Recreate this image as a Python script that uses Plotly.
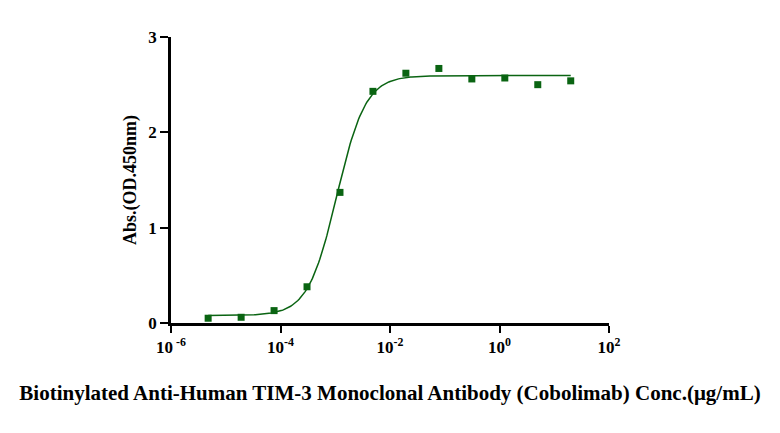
import numpy as np
import plotly.graph_objects as go

# concentrations (ug/mL), 4-fold dilutions from 20
conc = [4.77e-6, 1.91e-5, 7.63e-5, 3.05e-4, 1.22e-3, 4.88e-3,
        0.0195, 0.0781, 0.3125, 1.25, 5.0, 20.0]
od450 = [0.05, 0.06, 0.13, 0.38, 1.37, 2.43,
         2.62, 2.67, 2.56, 2.57, 2.50, 2.54]

# 4PL fit parameters
bottom, top, ec50, hill = 0.078, 2.595, 1.07e-3, 1.65

xtick_vals = [1e-6, 1e-4, 1e-2, 1e0, 1e2]
xtick_text = ["10<sup> -6</sup>", "10<sup>-4</sup>", "10<sup>-2</sup>",
              "10<sup>0</sup>", "10<sup>2</sup>"]

green = "#0a6412"
serif = "Liberation Serif"

xfit = np.logspace(np.log10(conc[0]), np.log10(conc[-1]), 300)
yfit = bottom + (top - bottom) / (1 + (ec50 / xfit) ** hill)

fig = go.Figure()
fig.add_trace(go.Scatter(x=xfit, y=yfit, mode="lines",
                         line=dict(color=green, width=1.5), hoverinfo="skip"))
fig.add_trace(go.Scatter(x=conc, y=od450, mode="markers",
                         marker=dict(symbol="square", size=7, color=green)))

# page body has an 8px margin, so the figure is a bit smaller
fig.update_layout(
    width=772, height=425,
    margin=dict(l=163, r=171, t=29, b=110),
    paper_bgcolor="white", plot_bgcolor="white",
    showlegend=False,
    font=dict(family=serif, color="black", size=16),
)
fig.update_xaxes(
    type="log", range=[-6, 2], automargin=False,
    tickvals=xtick_vals, ticktext=xtick_text,
    ticks="outside", ticklen=7, tickwidth=2, tickcolor="black",
    showline=True, linewidth=2.5, linecolor="black",
    showgrid=False, zeroline=False,
    tickfont=dict(family=serif, size=17, color="black", weight="bold"),
    title=dict(text="<b>Biotinylated Anti-Human TIM-3 Monoclonal Antibody (Cobolimab) Conc.(μg/mL)</b>",
               font=dict(family=serif, size=21, color="black"), standoff=30),
)
fig.update_yaxes(
    range=[0, 3], tickvals=[0, 1, 2, 3], automargin=False,
    ticks="outside", ticklen=8, tickwidth=2, tickcolor="black",
    showline=True, linewidth=2.5, linecolor="black",
    showgrid=False, zeroline=False,
    tickfont=dict(family=serif, size=17, color="black", weight="bold"),
    title=dict(text="<b>Abs.(OD.450nm)</b>",
               font=dict(family=serif, size=18, color="black"), standoff=8),
)

fig.write_html("out.html")
